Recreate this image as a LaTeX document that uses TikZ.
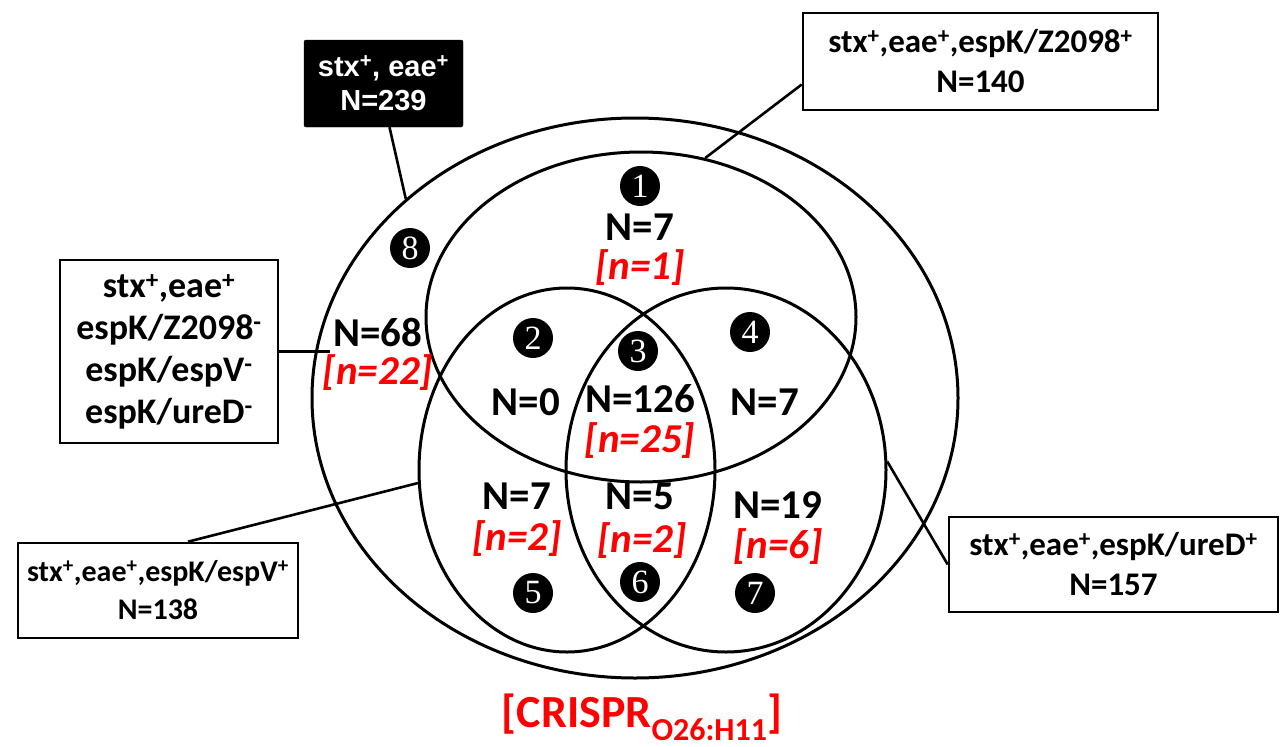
\documentclass[tikz,border=0pt]{standalone}
\usepackage{fontspec}
\setmainfont{Carlito}
\newfontfamily\arialfont{Liberation Sans}
\newfontfamily\numfont{Liberation Serif}
\usetikzlibrary{shapes.geometric,calc}
\begin{document}
\begin{tikzpicture}[x=1pt,y=-1pt,
  ring/.style={draw, line width=3pt, ellipse, inner sep=0pt},
  lbl/.style={inner sep=0pt, font=\fontsize{41}{44}\selectfont\bfseries},
  cnt/.style={inner sep=0pt, text=red, font=\fontsize{41}{44}\selectfont\bfseries\itshape},
  num/.style={circle, fill=black, text=white, minimum size=40pt, inner sep=0pt, font=\numfont\fontsize{34}{34}\selectfont},
  infobox/.style={draw, line width=2.6pt, align=center, inner sep=0pt, font=\fontsize{33}{40}\selectfont\bfseries},
  conn/.style={line width=2.6pt}
]
\useasboundingbox (0,0) rectangle (1280,747);

% sets
\node[ring, minimum width=646pt, minimum height=560pt] (outer) at (635,398) {};
\node[ring, minimum width=430pt, minimum height=330pt] (setA) at (641,317) {};
\node[ring, minimum width=296pt, minimum height=364pt] (setB) at (567,470) {};
\node[ring, minimum width=320pt, minimum height=364pt] (setC) at (726,470) {};

% region numbers
\node[num] (c1) at (640,186) {1};
\node[num] (c2) at (533,338) {2};
\node[num] (c3) at (638,351) {3};
\node[num] (c4) at (750,332) {4};
\node[num] (c5) at (533,593) {5};
\node[num] (c6) at (640,582) {6};
\node[num] (c7) at (755,593) {7};
\node[num] (c8) at (410,248) {8};

% counts
\node[lbl] (t1) at (640,227) {N=7};
\node[cnt] (r1) at (640,268) {[n=1]};
\node[lbl] (t8) at (378,332) {N=68};
\node[cnt] (r8) at (378,373) {[n=22]};
\node[lbl] (t2) at (526,402) {N=0};
\node[lbl] (t3) at (640,399) {N=126};
\node[cnt] (r3) at (640,441) {[n=25]};
\node[lbl] (t4) at (765,402) {N=7};
\node[lbl] (t5) at (517,496) {N=7};
\node[cnt] (r5) at (517,539) {[n=2]};
\node[lbl] (t6) at (640,496) {N=5};
\node[cnt] (r6) at (642,541) {[n=2]};
\node[lbl] (t7) at (778,505) {N=19};
\node[cnt] (r7) at (778,547) {[n=6]};

% boxes
\node[fill=black, draw=black, rounded corners=2pt, minimum width=159pt, minimum height=87pt, inner sep=0pt, text=white, align=center,
  font=\arialfont\bfseries\fontsize{29}{34}\selectfont] (box8) at (383.5,83.5) {stx\textsuperscript{+}, eae\textsuperscript{+}\\N=239};
\node[infobox, minimum width=355pt, minimum height=97pt] (boxA) at (980.5,61.5)
  {stx\textsuperscript{+},eae\textsuperscript{+},espK/Z2098\textsuperscript{+}\\N=140};
\node[infobox, minimum width=218pt, minimum height=183pt, font=\fontsize{36}{42}\selectfont\bfseries] (boxN) at (169,351.5)
  {stx\textsuperscript{+},eae\textsuperscript{+}\\espK/Z2098\textsuperscript{-}\\espK/espV\textsuperscript{-}\\espK/ureD\textsuperscript{-}};
\node[infobox, minimum width=280pt, minimum height=95pt, font=\fontsize{30}{38}\selectfont\bfseries] (boxB) at (158,590.5)
  {stx\textsuperscript{+},eae\textsuperscript{+},espK/espV\textsuperscript{+}\\N=138};
\node[infobox, minimum width=329pt, minimum height=95pt] (boxC) at (1113.5,564.5)
  {stx\textsuperscript{+},eae\textsuperscript{+},espK/ureD\textsuperscript{+}\\N=157};

% connectors
\coordinate (negend) at (330,351.5);
\draw[conn] ($(box8.south)+(6,0)$) -- (outer.139);
\draw[conn] ($(boxA.west)+(0,23)$) -- (setA.68);
\draw[conn] (boxN.east) -- (negend);
\draw[conn] ($(boxB.north)+(30,0)$) -- (setB.185);
\draw[conn] (boxC.west) -- (setC.3);

% title
\node[inner sep=0pt, text=red, font=\fontsize{46}{50}\selectfont\bfseries] (title) at (642,717)
  {[CRISPR\raisebox{-13pt}{\fontsize{32}{32}\selectfont O26:H11}]};
\end{tikzpicture}
\end{document}
